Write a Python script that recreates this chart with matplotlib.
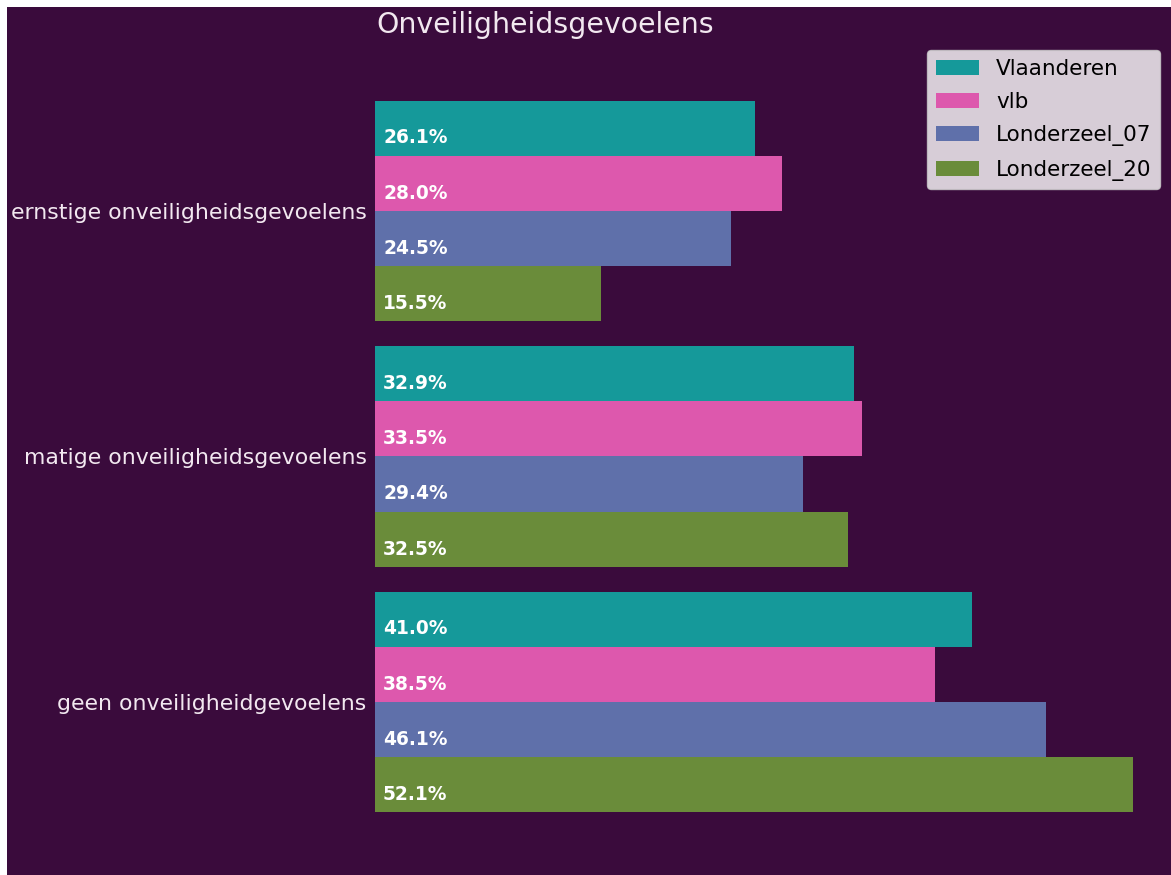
import matplotlib.pyplot as plt
import numpy as np
from matplotlib.patches import Rectangle

categories = ["ernstige onveiligheidsgevoelens",
              "matige onveiligheidsgevoelens",
              "geen onveiligheidgevoelens"]
series_names = ["Vlaanderen", "vlb", "Londerzeel_07", "Londerzeel_20"]
vlaanderen = [26.1, 32.9, 41.0]
vlb = [28.0, 33.5, 38.5]
londerzeel_07 = [24.5, 29.4, 46.1]
londerzeel_20 = [15.5, 32.5, 52.1]

colors = ["#15999a", "#dd58ad", "#5f70aa", "#6a8c3a"]
bg = "#3a0b3c"
txt = "#f2e8f0"

W, H = 1171, 875
fig = plt.figure(figsize=(W / 100, H / 100), dpi=100, facecolor=bg)
# white margin at top and left (the picture is a crop)
fig.patches.append(Rectangle((0, 0), 7 / W, 1, transform=fig.transFigure,
                             facecolor="white", edgecolor="none", zorder=-10))
fig.patches.append(Rectangle((0, 1 - 7 / H), 1, 7 / H, transform=fig.transFigure,
                             facecolor="white", edgecolor="none", zorder=-10))

left, right, top, bottom = 375, 1167, 43, 868
ax = fig.add_axes([left / W, 1 - bottom / H, (right - left) / W, (bottom - top) / H])
ax.set_facecolor("none")

px_per_pct = 14.55
group_px = 245.5
ax.set_xlim(0, (right - left) / px_per_pct)
ax.set_ylim((bottom - 211) / group_px, (top - 211) / group_px)

bar_h = 0.225
y = np.arange(len(categories))
all_series = [vlaanderen, vlb, londerzeel_07, londerzeel_20]
for j, (name, vals) in enumerate(zip(series_names, all_series)):
    ypos = y + (j - 1.5) * bar_h
    ax.barh(ypos, vals, height=bar_h, color=colors[j], label=name)
    for yy, v in zip(ypos, vals):
        ax.text(0.55, yy + 0.04, f"{v:.1f}%", color="white",
                fontsize=13.4, fontweight="bold", va="center", ha="left")

ax.set_yticks(y)
ax.set_yticklabels(categories, fontsize=15.8, color=txt)
ax.tick_params(axis="y", length=0, pad=6)
ax.set_xticks([])
for s in ax.spines.values():
    s.set_visible(False)

fig.text(545 / W, 1 - 25 / H, "Onveiligheidsgevoelens", color=txt,
         fontsize=20.4, ha="center", va="center")

ax.legend(loc="upper right", bbox_to_anchor=(1160 / W, 1 - 50 / H),
          bbox_transform=fig.transFigure, borderaxespad=0, fontsize=15.5,
          labelspacing=0.62)

fig.savefig("out.png", dpi=100, facecolor=fig.get_facecolor())
